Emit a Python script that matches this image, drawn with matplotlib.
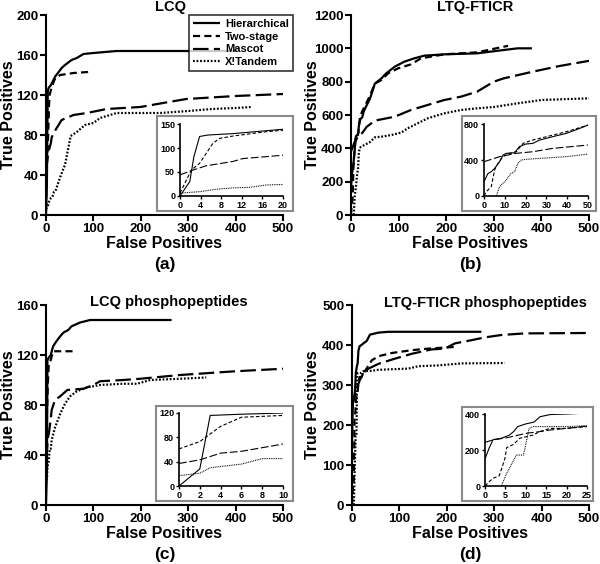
import matplotlib
matplotlib.use("Agg")
import matplotlib.pyplot as plt

plt.rcParams['font.family'] = ['Liberation Sans', 'DejaVu Sans']
plt.rcParams['font.weight'] = 'bold'

# (a) LCQ
lcq_hier_x = [0, 1.2, 1.9, 2.7, 3.8, 5.4, 10.3, 20, 22, 33, 40, 54, 65, 79, 100, 149, 400]
lcq_hier_y = [0, 19, 30, 82, 124, 127, 130, 139, 140, 147, 150, 155, 157, 161, 162, 164, 164]
lcq_two_x = [0, 2.2, 3.8, 6.4, 7.7, 10.3, 16.8, 20, 30, 58, 89]
lcq_two_y = [6, 54, 68, 110, 120, 125, 134, 137, 140, 142, 143]
lcq_mascot_x = [0, 2.5, 5.1, 10.3, 12.2, 16.8, 20, 33, 58, 86, 107, 128, 163, 199, 247, 296, 400, 500]
lcq_mascot_y = [44, 54, 63, 72, 78, 82, 85, 95, 100, 102, 104, 106, 107, 108, 112, 116, 119, 121]
lcq_xt_x = [0, 3.8, 7, 10.3, 13.5, 16.8, 20, 30, 40, 52, 65, 82, 100, 114, 149, 241, 300, 350, 400, 435]
lcq_xt_y = [6, 9, 14, 17, 18, 23, 24, 38, 50, 79, 83, 90, 92, 97, 102, 102, 104, 106, 107, 108]

# (b) LTQ-FTICR
ltq_hier_x = [0, 1.9, 3.5, 5.1, 7.5, 9.1, 10.7, 14.7, 17, 20, 23.5, 26.8, 33, 39.6, 46, 50,
              64, 74, 92, 112, 133, 154, 196, 265, 321, 350, 380]
ltq_hier_y = [159, 250, 270, 307, 381, 455, 474, 481, 548, 577, 585, 622, 659, 696, 751, 788,
              820, 850, 890, 920, 940, 956, 964, 970, 990, 1000, 1000]
ltq_two_x = [0, 1.1, 3.5, 5.1, 6.7, 9.1, 12.3, 15.5, 18.8, 23.5, 30, 39.6, 50,
             64, 78, 99, 126, 147, 196, 265, 321, 330]
ltq_two_y = [0, 48, 104, 289, 363, 437, 474, 492, 585, 622, 659, 714, 788,
             810, 850, 880, 904, 940, 964, 976, 1010, 1015]
ltq_mascot_x = [0, 7.5, 15.5, 23.5, 33, 50, 57, 92, 126, 161, 196, 231, 265, 300, 321, 382, 438, 500]
ltq_mascot_y = [381, 437, 474, 492, 529, 566, 570, 590, 630, 660, 690, 710, 740, 800, 820, 860, 894, 925]
ltq_xt_x = [5.9, 7.5, 10.7, 13, 14.7, 16.3, 18, 20, 26.8, 39.6, 50, 64, 85, 106, 119, 140,
            161, 196, 231, 265, 300, 350, 400, 500]
ltq_xt_y = [0, 104, 178, 250, 270, 363, 400, 407, 418, 437, 466, 470, 480, 495, 520, 550,
            580, 610, 630, 640, 648, 670, 690, 700]

# (c) LCQ phosphopeptides
lcqp_hier_x = [0, 2, 3, 6, 10, 15, 22, 30, 37, 47, 54, 72, 93, 128, 265]
lcqp_hier_y = [0, 28, 116, 118, 120, 127, 131, 135, 138, 140, 143, 146, 148, 148, 148]
lcqp_two_x = [0, 2, 4, 6, 10, 15, 63]
lcqp_two_y = [61, 73, 98, 113, 116, 123, 123]
lcqp_mascot_x = [0, 2, 4, 6, 10, 12, 19, 30, 45, 79, 100, 114, 163, 199, 283, 400, 500]
lcqp_mascot_y = [37, 43, 54, 57, 69, 76, 84, 87, 92, 93, 96, 99, 100, 101, 104, 107, 109]
lcqp_xt_x = [0, 2, 3, 6, 8, 10, 12, 19, 30, 40, 51, 65, 86, 114, 163, 192, 220, 283, 338]
lcqp_xt_y = [17, 21, 30, 36, 45, 45, 52, 62, 73, 81, 87, 91, 94, 96, 97, 97, 100, 101, 102]

# (d) LTQ-FTICR phosphopeptides
ltqp_hier_x = [0, 1, 2, 4, 6, 7, 8, 10, 12, 13.5, 16, 20, 25, 31, 38, 56, 77, 273]
ltqp_hier_y = [150, 210, 258, 265, 283, 302, 330, 345, 355, 385, 397, 400, 405, 410, 426, 431, 433, 433]
ltqp_two_x = [0, 1, 2, 3.5, 4.9, 5.3, 7, 8.5, 11.8, 13.4, 15.9, 20, 25, 35, 42, 56, 84, 126, 161, 215]
ltqp_two_y = [0, 24, 43, 57, 154, 213, 231, 265, 283, 302, 320, 320, 330, 349, 362, 372, 380, 387, 391, 395]
ltqp_mascot_x = [0, 2, 5.3, 10.2, 13.4, 15.9, 20, 25, 35, 56, 91, 126, 168, 196, 217, 252, 280, 315, 364, 500]
ltqp_mascot_y = [243, 256, 268, 293, 302, 311, 320, 333, 341, 353, 366, 378, 389, 391, 404, 412, 419, 425, 429, 430]
ltqp_xt_x = [4, 5.3, 7.7, 9.4, 9.8, 10.8, 11.8, 15.9, 20, 25, 38.5, 56, 119, 140, 182, 231, 322]
ltqp_xt_y = [0, 70, 172, 172, 209, 320, 330, 330, 330, 335, 335, 338, 341, 347, 349, 354, 355]

series_names = ['Hierarchical', 'Two-stage', 'Mascot', 'X!Tandem']
dash_styles = [None, (3.2, 1.9), (7.0, 2.4), (0.8, 0.8)]

W, H = 600, 564
fig = plt.figure(figsize=(6, 5.64), dpi=100)


def fbox(x0, y0, x1, y1):
    return [x0 / W, 1 - y1 / H, (x1 - x0) / W, (y1 - y0) / H]


def draw(ax, data, lw):
    lines = []
    for (xs, ys), name, d in zip(data, series_names, dash_styles):
        ln, = ax.plot(xs, ys, color='black', lw=lw, label=name, solid_capstyle='butt')
        if d is not None:
            ln.set_dashes(d)
        lines.append(ln)
    return lines


def panel(main_box, inset_frame, inset_box, data, ymax, ystep,
          ix_max, ix_step, iy_max, iy_step, title, title_xy, letter, lab_x, lab_y):
    ax = fig.add_axes(fbox(*main_box))
    draw(ax, data, 1.6)
    ax.set_xlim(0, 500)
    ax.set_ylim(0, ymax)
    ax.set_xticks(range(0, 501, 100))
    ax.set_yticks(range(0, ymax + 1, ystep))
    for s in ['top', 'right']:
        ax.spines[s].set_visible(False)
    for s in ['left', 'bottom']:
        ax.spines[s].set_linewidth(1.5)
    ax.tick_params(direction='out', length=4, width=1.5, labelsize=9.5, pad=1.5)
    for t in ax.get_xticklabels() + ax.get_yticklabels():
        t.set_fontweight('bold')

    # inset frame and inset axes
    frame = fig.add_axes(fbox(*inset_frame), zorder=1)
    frame.set_xticks([])
    frame.set_yticks([])
    for s in frame.spines.values():
        s.set_edgecolor('#8a8a8a')
        s.set_linewidth(1.5)
    ins = fig.add_axes(fbox(*inset_box), zorder=2)
    ins.patch.set_alpha(0)
    draw(ins, data, 0.8)
    ins.set_xlim(0, ix_max)
    ins.set_ylim(0, iy_max)
    ins.set_xticks(range(0, ix_max + 1, ix_step))
    ins.set_yticks(range(0, iy_max + 1, iy_step))
    for s in ['top', 'right']:
        ins.spines[s].set_visible(False)
    for s in ['left', 'bottom']:
        ins.spines[s].set_linewidth(1.2)
    ins.tick_params(direction='out', length=2.5, width=1, labelsize=6.5, pad=1)
    for t in ins.get_xticklabels() + ins.get_yticklabels():
        t.set_fontweight('bold')

    fig.text(title_xy[0] / W, 1 - title_xy[1] / H, title, ha='center', va='center',
             fontsize=10.5, fontweight='bold')
    cx = (main_box[0] + main_box[2]) / 2
    fig.text(cx / W, 1 - lab_x / H, 'False Positives', ha='center', va='center',
             fontsize=11.5, fontweight='bold')
    fig.text(cx / W, 1 - (lab_x + 21) / H, letter, ha='center', va='center',
             fontsize=12.5, fontweight='bold')
    fig.text(lab_y / W, 1 - ((main_box[1] + main_box[3]) / 2) / H, 'True Positives',
             ha='center', va='center', rotation=90, fontsize=11.5, fontweight='bold')
    return ax


ax_a = panel((46, 15, 283, 215), (157, 116, 293, 211), (180, 124, 283, 196),
             [(lcq_hier_x, lcq_hier_y), (lcq_two_x, lcq_two_y),
              (lcq_mascot_x, lcq_mascot_y), (lcq_xt_x, lcq_xt_y)],
             200, 40, 20, 4, 150, 50, 'LCQ', (171, 7), '(a)', 243, 9)

panel((351, 15, 589, 215), (462, 116, 596, 211), (484, 124, 588, 196),
      [(ltq_hier_x, ltq_hier_y), (ltq_two_x, ltq_two_y),
       (ltq_mascot_x, ltq_mascot_y), (ltq_xt_x, ltq_xt_y)],
      1200, 200, 50, 10, 800, 400, 'LTQ-FTICR', (475, 7), '(b)', 243, 313)

panel((46, 305, 283, 505), (156, 406, 293, 501), (179, 413, 283, 486),
      [(lcqp_hier_x, lcqp_hier_y), (lcqp_two_x, lcqp_two_y),
       (lcqp_mascot_x, lcqp_mascot_y), (lcqp_xt_x, lcqp_xt_y)],
      160, 40, 10, 2, 120, 40, 'LCQ phosphopeptides', (169, 302), '(c)', 533, 9)

panel((352, 305, 589, 505), (462, 407, 593, 501), (485, 414, 587, 486),
      [(ltqp_hier_x, ltqp_hier_y), (ltqp_two_x, ltqp_two_y),
       (ltqp_mascot_x, ltqp_mascot_y), (ltqp_xt_x, ltqp_xt_y)],
      500, 100, 25, 5, 400, 200, 'LTQ-FTICR phosphopeptides', (485, 303), '(d)', 533, 313)

leg = ax_a.legend(loc='upper right', bbox_to_anchor=(293 / W, 1 - 15 / H),
                  bbox_transform=fig.transFigure, fontsize=8, frameon=True,
                  fancybox=False, handlelength=2.4, borderpad=0.35, labelspacing=0.25,
                  handletextpad=0.5, borderaxespad=0)
leg.get_frame().set_edgecolor('black')
leg.get_frame().set_linewidth(1.2)
leg.set_zorder(5)
for t in leg.get_texts():
    t.set_fontweight('bold')

fig.savefig('out.png', dpi=100)
